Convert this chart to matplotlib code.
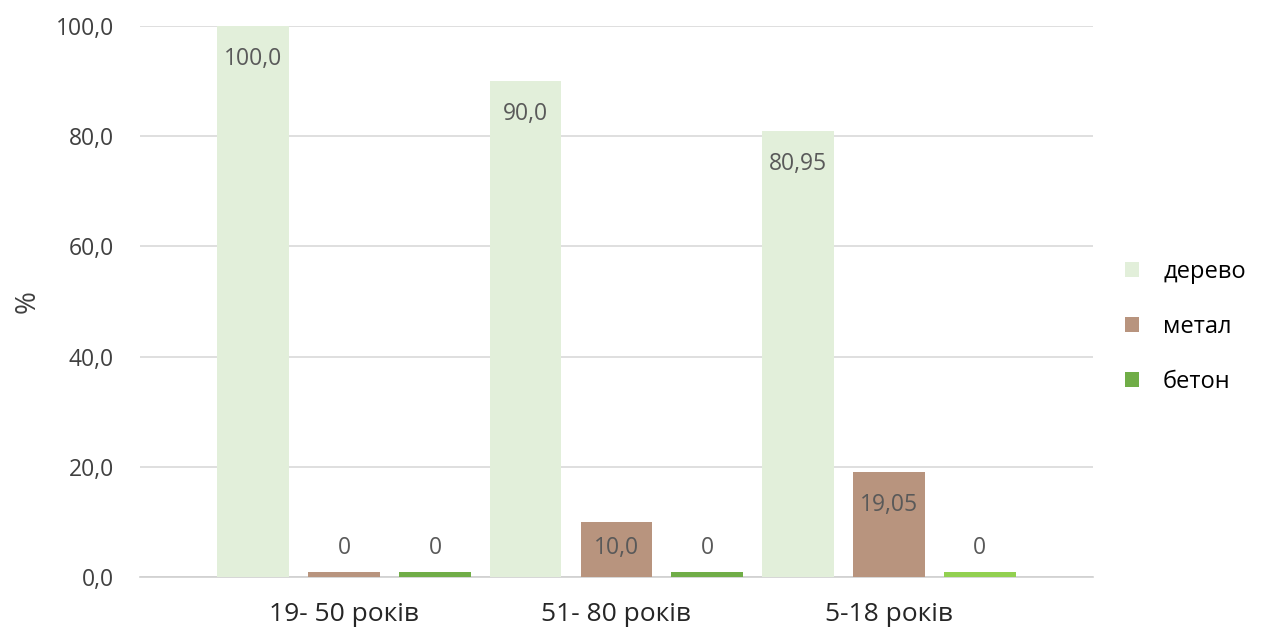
import numpy as np
import matplotlib.pyplot as plt
from matplotlib.patches import Patch

plt.rcParams['font.family'] = ['Open Sans', 'DejaVu Sans']

categories = ['19- 50 років', '51- 80 років', '5-18 років']
series = ['дерево', 'метал', 'бетон']
derevo = [100.0, 90.0, 80.95]
metal = [0, 10.0, 19.05]
beton = [0, 0, 0]
labels = [['100,0', '90,0', '80,95'],
          ['0', '10,0', '19,05'],
          ['0', '0', '0']]
yticks = [0, 20, 40, 60, 80, 100]

colors = [['#E2EFDA'] * 3,
          ['#B8947E'] * 3,
          ['#70AD47', '#70AD47', '#92D050']]
legend_colors = ['#E2EFDA', '#B8947E', '#70AD47']

fig = plt.figure(figsize=(12.62, 6.29), dpi=100)
ax = fig.add_axes([0.111, 0.0827, 0.755, 0.876])

x = np.arange(len(categories))
pitch = 0.334
width = 0.264
stub = 0.9  # zero values still get a thin visible bar

for i, vals in enumerate([derevo, metal, beton]):
    vals = np.array(vals, dtype=float)
    pos = x + (i - 1) * pitch
    heights = np.where(vals == 0, stub, vals)
    ax.bar(pos, heights, width, color=colors[i], zorder=3)
    for p, v, t in zip(pos, vals, labels[i]):
        ax.text(p, max(v - 6.0, 5.2), t, ha='center', va='center',
                fontsize=16.5, color='#595959', zorder=4)

ax.set_xlim(-0.75, 2.75)
ax.set_ylim(0, 100)
ax.set_yticks(yticks)
ax.set_yticklabels([f'{t:.1f}'.replace('.', ',') for t in yticks],
                   fontsize=16.5, color='#404040')
ax.set_xticks(x)
ax.set_xticklabels(categories, fontsize=19, color='#262626')
ax.tick_params(axis='both', length=0)
ax.tick_params(axis='y', pad=19)
ax.tick_params(axis='x', pad=18)

ax.grid(axis='y', color='#D9D9D9', linewidth=1.2, zorder=0)
for s in ['left', 'right', 'top']:
    ax.spines[s].set_visible(False)
ax.spines['bottom'].set_color('#D0D0D0')
ax.spines['bottom'].set_linewidth(1.2)

ax.set_ylabel('%', fontsize=20, color='#404040', labelpad=10)

handles = [Patch(facecolor=c, label=s) for c, s in zip(legend_colors, series)]
fig.legend(handles=handles, loc='center left',
           bbox_to_anchor=(1104 / 1262, 1 - 327 / 629), frameon=False,
           fontsize=17, handlelength=0.6, handleheight=0.6,
           labelspacing=1.3, handletextpad=1.0)

fig.savefig('out.png', dpi=100)
